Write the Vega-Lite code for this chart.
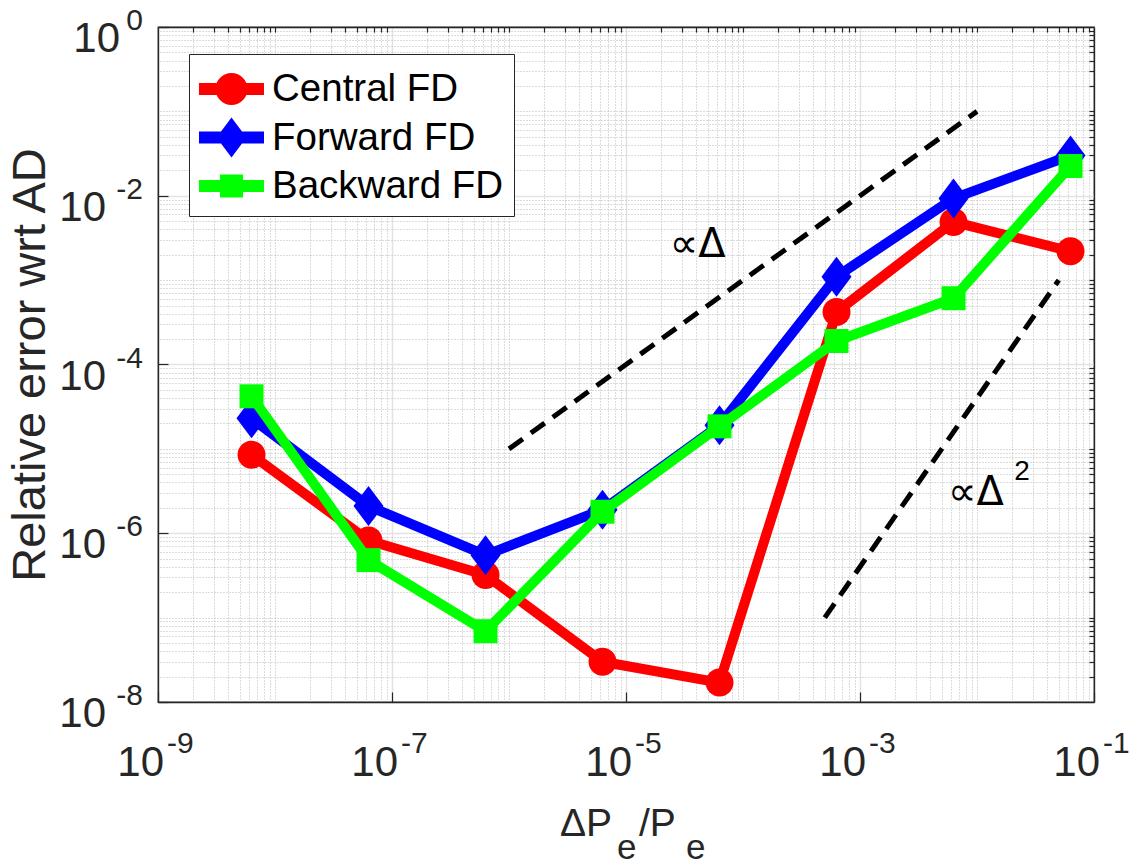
{
  "$schema": "https://vega.github.io/schema/vega-lite/v6.json",
  "autosize": "none",
  "width": 936,
  "height": 675,
  "padding": {"left": 158, "top": 27, "right": 36, "bottom": 163},
  "background": "white",
  "config": {
    "font": "Liberation Sans, DejaVu Sans",
    "view": {"stroke": "#262626", "strokeWidth": 1.3},
    "axis": {"domainColor": "#262626", "domainWidth": 1.3, "tickColor": "#262626", "tickWidth": 1.2, "labelColor": "#262626", "titleColor": "#262626", "titleFontWeight": "normal", "labelFlush": false, "labelOverlap": false},
    "text": {"color": "#262626", "font": "Liberation Sans, DejaVu Sans"}
  },
  "datasets": {
    "series": [
      {"x": 6.3e-9, "y": 8.5e-6, "series": "Central FD"},
      {"x": 6.3e-8, "y": 8.2e-7, "series": "Central FD"},
      {"x": 6.3e-7, "y": 3.2e-7, "series": "Central FD"},
      {"x": 6.3e-6, "y": 3.0e-8, "series": "Central FD"},
      {"x": 6.3e-5, "y": 1.7e-8, "series": "Central FD"},
      {"x": 6.3e-4, "y": 4.2e-4, "series": "Central FD"},
      {"x": 6.3e-3, "y": 4.9e-3, "series": "Central FD"},
      {"x": 6.3e-2, "y": 2.2e-3, "series": "Central FD"},
      {"x": 6.3e-9, "y": 2.3e-5, "series": "Forward FD"},
      {"x": 6.3e-8, "y": 2.1e-6, "series": "Forward FD"},
      {"x": 6.3e-7, "y": 5.5e-7, "series": "Forward FD"},
      {"x": 6.3e-6, "y": 1.9e-6, "series": "Forward FD"},
      {"x": 6.3e-5, "y": 1.9e-5, "series": "Forward FD"},
      {"x": 6.3e-4, "y": 1.1e-3, "series": "Forward FD"},
      {"x": 6.3e-3, "y": 9.3e-3, "series": "Forward FD"},
      {"x": 6.3e-2, "y": 3.0e-2, "series": "Forward FD"},
      {"x": 6.3e-9, "y": 4.2e-5, "series": "Backward FD"},
      {"x": 6.3e-8, "y": 4.8e-7, "series": "Backward FD"},
      {"x": 6.3e-7, "y": 6.9e-8, "series": "Backward FD"},
      {"x": 6.3e-6, "y": 1.8e-6, "series": "Backward FD"},
      {"x": 6.3e-5, "y": 1.85e-5, "series": "Backward FD"},
      {"x": 6.3e-4, "y": 1.9e-4, "series": "Backward FD"},
      {"x": 6.3e-3, "y": 6.1e-4, "series": "Backward FD"},
      {"x": 6.3e-2, "y": 2.25e-2, "series": "Backward FD"}
    ],
    "refs": [
      {"x": 1e-6, "y": 1e-5, "ref": "linear"},
      {"x": 1e-2, "y": 1e-1, "ref": "linear"},
      {"x": 5e-4, "y": 1e-7, "ref": "quadratic"},
      {"x": 5e-2, "y": 1e-3, "ref": "quadratic"}
    ],
    "notes": [
      {"x": 4.1e-5, "y": 2.6e-3, "text": "∝Δ"},
      {"x": 9.8e-3, "y": 3.0e-6, "text": "∝Δ"}
    ],
    "sups": [
      {"x": 0.0243, "y": 5.3e-6, "text": "2"}
    ],
    "xlabels": [
      {"v": 1e-9, "e": "-9"}, {"v": 1e-7, "e": "-7"}, {"v": 1e-5, "e": "-5"}, {"v": 1e-3, "e": "-3"}, {"v": 1e-1, "e": "-1"}
    ],
    "ylabels": [
      {"v": 1, "e": "0"}, {"v": 1e-2, "e": "-2"}, {"v": 1e-4, "e": "-4"}, {"v": 1e-6, "e": "-6"}, {"v": 1e-8, "e": "-8"}
    ],
    "xtitle": [
      {"title": "ΔPe/Pe"}
    ]
  },
  "resolve": {"axis": {"x": "independent", "y": "independent"}},
  "layer": [
    {
      "data": {"name": "refs"},
      "mark": {"type": "line", "color": "black", "strokeWidth": 5, "strokeDash": [17, 10]},
      "encoding": {
        "x": {"field": "x", "type": "quantitative",
          "scale": {"type": "log", "domain": [1e-9, 0.1]},
          "axis": {"orient": "bottom", "values": [1e-9, 1e-7, 1e-5, 1e-3, 1e-1], "labels": false, "title": null,
            "grid": true, "gridColor": "#e3e3e3", "gridWidth": 1.5, "tickSize": -10}},
        "y": {"field": "y", "type": "quantitative",
          "scale": {"type": "log", "domain": [1e-8, 1]},
          "axis": {"orient": "left", "values": [1, 1e-2, 1e-4, 1e-6, 1e-8], "labels": false,
            "grid": true, "gridColor": "#e3e3e3", "gridWidth": 1.5, "tickSize": -10,
            "title": "Relative error wrt AD", "titleFontSize": 47, "titleBaseline": "alphabetic", "titleX": -114}},
        "detail": {"field": "ref"}
      }
    },
    {
      "data": {"name": "series"},
      "transform": [{"filter": "datum.series === 'Central FD'"}],
      "mark": {"type": "line", "color": "#ff0000", "strokeWidth": 10, "strokeJoin": "round"},
      "encoding": {
        "x": {"field": "x", "type": "quantitative",
          "scale": {"type": "log", "domain": [1e-9, 0.1]},
          "axis": {"orient": "top", "labels": false, "title": null, "tickSize": -5,
            "grid": true, "gridDash": [1, 2], "gridColor": "#b8b8b8", "gridWidth": 1,
            "values": [2e-9,3e-9,4e-9,5e-9,6e-9,7e-9,8e-9,9e-9,1e-8,2e-8,3e-8,4e-8,5e-8,6e-8,7e-8,8e-8,9e-8,2e-7,3e-7,4e-7,5e-7,6e-7,7e-7,8e-7,9e-7,1e-6,2e-6,3e-6,4e-6,5e-6,6e-6,7e-6,8e-6,9e-6,2e-5,3e-5,4e-5,5e-5,6e-5,7e-5,8e-5,9e-5,1e-4,2e-4,3e-4,4e-4,5e-4,6e-4,7e-4,8e-4,9e-4,2e-3,3e-3,4e-3,5e-3,6e-3,7e-3,8e-3,9e-3,1e-2,2e-2,3e-2,4e-2,5e-2,6e-2,7e-2,8e-2,9e-2]}},
        "y": {"field": "y", "type": "quantitative",
          "scale": {"type": "log", "domain": [1e-8, 1]},
          "axis": {"orient": "right", "labels": false, "title": null, "tickSize": -5,
            "grid": true, "gridDash": [1, 2], "gridColor": "#b8b8b8", "gridWidth": 1,
            "values": [2e-8,3e-8,4e-8,5e-8,6e-8,7e-8,8e-8,9e-8,1e-7,2e-7,3e-7,4e-7,5e-7,6e-7,7e-7,8e-7,9e-7,2e-6,3e-6,4e-6,5e-6,6e-6,7e-6,8e-6,9e-6,1e-5,2e-5,3e-5,4e-5,5e-5,6e-5,7e-5,8e-5,9e-5,2e-4,3e-4,4e-4,5e-4,6e-4,7e-4,8e-4,9e-4,1e-3,2e-3,3e-3,4e-3,5e-3,6e-3,7e-3,8e-3,9e-3,2e-2,3e-2,4e-2,5e-2,6e-2,7e-2,8e-2,9e-2,1e-1,2e-1,3e-1,4e-1,5e-1,6e-1,7e-1,8e-1,9e-1]}}
      }
    },
    {
      "data": {"name": "series"},
      "transform": [{"filter": "datum.series === 'Central FD'"}],
      "mark": {"type": "point", "shape": "M-0.7,0A0.7,0.7,0,1,1,0.7,0A0.7,0.7,0,1,1,-0.7,0Z", "color": "#ff0000", "filled": true, "opacity": 1, "size": 1600, "strokeWidth": 0},
      "encoding": {
        "x": {"field": "x", "type": "quantitative", "scale": {"type": "log", "domain": [1e-9, 0.1]}, "axis": null},
        "y": {"field": "y", "type": "quantitative", "scale": {"type": "log", "domain": [1e-8, 1]}, "axis": null}
      }
    },
    {
      "data": {"name": "series"},
      "transform": [{"filter": "datum.series === 'Forward FD'"}],
      "mark": {"type": "line", "color": "#0000ff", "strokeWidth": 10, "strokeJoin": "round"},
      "encoding": {
        "x": {"field": "x", "type": "quantitative", "scale": {"type": "log", "domain": [1e-9, 0.1]}, "axis": null},
        "y": {"field": "y", "type": "quantitative", "scale": {"type": "log", "domain": [1e-8, 1]}, "axis": null}
      }
    },
    {
      "data": {"name": "series"},
      "transform": [{"filter": "datum.series === 'Forward FD'"}],
      "mark": {"type": "point", "shape": "M0,-1L0.75,0L0,1L-0.75,0Z", "color": "#0000ff", "filled": true, "opacity": 1, "size": 1600, "strokeWidth": 0},
      "encoding": {
        "x": {"field": "x", "type": "quantitative", "scale": {"type": "log", "domain": [1e-9, 0.1]}, "axis": null},
        "y": {"field": "y", "type": "quantitative", "scale": {"type": "log", "domain": [1e-8, 1]}, "axis": null}
      }
    },
    {
      "data": {"name": "series"},
      "transform": [{"filter": "datum.series === 'Backward FD'"}],
      "mark": {"type": "line", "color": "#00ff00", "strokeWidth": 10, "strokeJoin": "round"},
      "encoding": {
        "x": {"field": "x", "type": "quantitative", "scale": {"type": "log", "domain": [1e-9, 0.1]}, "axis": null},
        "y": {"field": "y", "type": "quantitative", "scale": {"type": "log", "domain": [1e-8, 1]}, "axis": null}
      }
    },
    {
      "data": {"name": "series"},
      "transform": [{"filter": "datum.series === 'Backward FD'"}],
      "mark": {"type": "point", "shape": "M-0.6,-0.6H0.6V0.6H-0.6Z", "color": "#00ff00", "filled": true, "opacity": 1, "size": 1600, "strokeWidth": 0},
      "encoding": {
        "x": {"field": "x", "type": "quantitative", "scale": {"type": "log", "domain": [1e-9, 0.1]}, "axis": null},
        "y": {"field": "y", "type": "quantitative", "scale": {"type": "log", "domain": [1e-8, 1]}, "axis": null}
      }
    },
    {
      "data": {"name": "series"},
      "mark": {"type": "point", "filled": true, "opacity": 0, "size": 2500, "strokeWidth": 0},
      "encoding": {
        "x": {"field": "x", "type": "quantitative", "scale": {"type": "log", "domain": [1e-9, 0.1]}, "axis": null},
        "y": {"field": "y", "type": "quantitative", "scale": {"type": "log", "domain": [1e-8, 1]}, "axis": null},
        "color": {"field": "series", "type": "nominal",
          "scale": {"domain": ["Central FD", "Forward FD", "Backward FD"], "range": ["#ff0000", "#0000ff", "#00ff00"]},
          "legend": {"title": null, "orient": "none", "legendX": 31, "legendY": 27, "symbolSize": 2500, "symbolStrokeWidth": 0, "symbolOpacity": 1, "labelFontSize": 38.5, "labelFont": "Liberation Sans", "labelColor": "#000000", "labelOffset": 23, "labelLimit": 500, "padding": 10, "rowPadding": 3.5, "strokeColor": "#262626", "fillColor": "white"}},
        "shape": {"field": "series", "type": "nominal",
          "scale": {"domain": ["Central FD", "Forward FD", "Backward FD"], "range": [
            "M-1,-0.24H1.6V0.24H-1Z M-0.34,0A0.64,0.64,0,1,1,0.94,0A0.64,0.64,0,1,1,-0.34,0Z",
            "M-1,-0.24H1.6V0.24H-1Z M0.3,-0.8L0.9,0L0.3,0.8L-0.3,0Z",
            "M-1,-0.24H1.6V0.24H-1Z M-0.16,-0.46H0.76V0.46H-0.16Z"]},
          "legend": {"title": null, "orient": "none", "legendX": 31, "legendY": 27, "symbolSize": 2500, "symbolStrokeWidth": 0, "symbolOpacity": 1, "labelFontSize": 38.5, "labelFont": "Liberation Sans", "labelColor": "#000000", "labelOffset": 23, "labelLimit": 500, "padding": 10, "rowPadding": 3.5, "strokeColor": "#262626", "fillColor": "white"}}
      }
    },
    {
      "data": {"name": "notes"},
      "mark": {"type": "text", "font": "DejaVu Sans", "fontSize": 40, "color": "black", "align": "center", "baseline": "middle"},
      "encoding": {
        "x": {"field": "x", "type": "quantitative", "scale": {"type": "log", "domain": [1e-9, 0.1]}, "axis": null},
        "y": {"field": "y", "type": "quantitative", "scale": {"type": "log", "domain": [1e-8, 1]}, "axis": null},
        "text": {"field": "text"}
      }
    },
    {
      "data": {"name": "sups"},
      "mark": {"type": "text", "fontSize": 28, "color": "black", "align": "center", "baseline": "middle"},
      "encoding": {
        "x": {"field": "x", "type": "quantitative", "scale": {"type": "log", "domain": [1e-9, 0.1]}, "axis": null},
        "y": {"field": "y", "type": "quantitative", "scale": {"type": "log", "domain": [1e-8, 1]}, "axis": null},
        "text": {"field": "text"}
      }
    },
    {
      "data": {"name": "xlabels"},
      "mark": {"type": "text", "text": "10", "fontSize": 42, "align": "right", "baseline": "alphabetic", "dx": 6, "dy": 74},
      "encoding": {
        "x": {"field": "v", "type": "quantitative", "scale": {"type": "log", "domain": [1e-9, 0.1]}, "axis": null},
        "y": {"datum": 1e-8, "type": "quantitative", "scale": {"type": "log", "domain": [1e-8, 1]}, "axis": null}
      }
    },
    {
      "data": {"name": "xlabels"},
      "mark": {"type": "text", "fontSize": 30, "align": "left", "baseline": "alphabetic", "dx": 9, "dy": 51},
      "encoding": {
        "x": {"field": "v", "type": "quantitative", "scale": {"type": "log", "domain": [1e-9, 0.1]}, "axis": null},
        "y": {"datum": 1e-8, "type": "quantitative", "scale": {"type": "log", "domain": [1e-8, 1]}, "axis": null},
        "text": {"field": "e"}
      }
    },
    {
      "data": {"name": "ylabels"},
      "transform": [{"filter": "datum.e !== '0'"}],
      "mark": {"type": "text", "text": "10", "fontSize": 42, "align": "right", "baseline": "alphabetic", "dx": -52, "dy": 25},
      "encoding": {
        "x": {"datum": 1e-9, "type": "quantitative", "scale": {"type": "log", "domain": [1e-9, 0.1]}, "axis": null},
        "y": {"field": "v", "type": "quantitative", "scale": {"type": "log", "domain": [1e-8, 1]}, "axis": null}
      }
    },
    {
      "data": {"name": "ylabels"},
      "transform": [{"filter": "datum.e === '0'"}],
      "mark": {"type": "text", "text": "10", "fontSize": 42, "align": "right", "baseline": "alphabetic", "dx": -38, "dy": 25},
      "encoding": {
        "x": {"datum": 1e-9, "type": "quantitative", "scale": {"type": "log", "domain": [1e-9, 0.1]}, "axis": null},
        "y": {"field": "v", "type": "quantitative", "scale": {"type": "log", "domain": [1e-8, 1]}, "axis": null}
      }
    },
    {
      "data": {"name": "ylabels"},
      "mark": {"type": "text", "fontSize": 30, "align": "right", "baseline": "alphabetic", "dx": -15, "dy": 3},
      "encoding": {
        "x": {"datum": 1e-9, "type": "quantitative", "scale": {"type": "log", "domain": [1e-9, 0.1]}, "axis": null},
        "y": {"field": "v", "type": "quantitative", "scale": {"type": "log", "domain": [1e-8, 1]}, "axis": null},
        "text": {"field": "e"}
      }
    },
    {
      "data": {"name": "xtitle"},
      "mark": {"type": "text", "text": "ΔP", "fontSize": 39, "align": "right", "baseline": "alphabetic", "dx": -14, "dy": 134},
      "encoding": {
        "x": {"datum": 1e-5, "type": "quantitative", "scale": {"type": "log", "domain": [1e-9, 0.1]}, "axis": null},
        "y": {"datum": 1e-8, "type": "quantitative", "scale": {"type": "log", "domain": [1e-8, 1]}, "axis": null}
      }
    },
    {
      "data": {"name": "xtitle"},
      "mark": {"type": "text", "text": "e", "fontSize": 35, "align": "left", "baseline": "alphabetic", "dx": -9, "dy": 157},
      "encoding": {
        "x": {"datum": 1e-5, "type": "quantitative", "scale": {"type": "log", "domain": [1e-9, 0.1]}, "axis": null},
        "y": {"datum": 1e-8, "type": "quantitative", "scale": {"type": "log", "domain": [1e-8, 1]}, "axis": null}
      }
    },
    {
      "data": {"name": "xtitle"},
      "mark": {"type": "text", "text": "/P", "fontSize": 39, "align": "left", "baseline": "alphabetic", "dx": 13, "dy": 134},
      "encoding": {
        "x": {"datum": 1e-5, "type": "quantitative", "scale": {"type": "log", "domain": [1e-9, 0.1]}, "axis": null},
        "y": {"datum": 1e-8, "type": "quantitative", "scale": {"type": "log", "domain": [1e-8, 1]}, "axis": null}
      }
    },
    {
      "data": {"name": "xtitle"},
      "mark": {"type": "text", "text": "e", "fontSize": 35, "align": "left", "baseline": "alphabetic", "dx": 60, "dy": 157},
      "encoding": {
        "x": {"datum": 1e-5, "type": "quantitative", "scale": {"type": "log", "domain": [1e-9, 0.1]}, "axis": null},
        "y": {"datum": 1e-8, "type": "quantitative", "scale": {"type": "log", "domain": [1e-8, 1]}, "axis": null}
      }
    }
  ]
}
